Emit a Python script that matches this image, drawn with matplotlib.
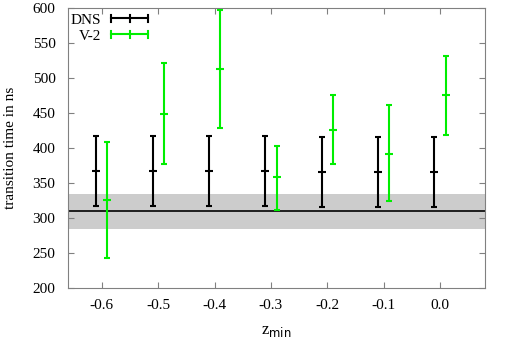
import matplotlib
matplotlib.use('Agg')
import matplotlib.pyplot as plt
from matplotlib.legend_handler import HandlerBase
from matplotlib.lines import Line2D
import numpy as np

# z_min positions
z = [-0.6, -0.5, -0.4, -0.3, -0.2, -0.1, 0.0]

# DNS reference values (center, lower, upper)
dns_mid = [367, 367, 367, 367, 366, 366, 366]
dns_lo = [317, 317, 317, 317, 316, 316, 316]
dns_hi = [417, 417, 417, 417, 416, 415, 415]

# V-2 model
v2_mid = [326, 449, 513, 358, 426, 392, 475]
v2_lo = [243, 377, 429, 311, 377, 325, 418]
v2_hi = [408, 522, 597, 403, 476, 461, 532]

# mean transition time and spread band
t_mean = 310
t_band = [285, 334]


class GnuplotKey(HandlerBase):
    # horizontal line with end caps and a centre tick, like the gnuplot key
    def create_artists(self, legend, orig_handle, xdescent, ydescent,
                       width, height, fontsize, trans):
        c = orig_handle.get_color()
        y = height / 2.0 - ydescent
        h = 2.5
        arts = [Line2D([-xdescent, width - xdescent], [y, y], color=c, lw=1.5)]
        for xx in [-xdescent, width / 2.0 - xdescent, width - xdescent]:
            arts.append(Line2D([xx, xx], [y - h, y + h], color=c, lw=1.5))
        for a in arts:
            a.set_transform(trans)
        return arts


plt.rcParams['font.family'] = ['Liberation Serif', 'DejaVu Serif']
plt.rcParams['font.size'] = 11

fig = plt.figure(figsize=(5.09, 3.47), dpi=100)
ax = fig.add_axes([0.1336, 0.170, 0.953 - 0.1336, 0.977 - 0.170])

ax.axhspan(t_band[0], t_band[1], color='#cccccc', lw=0, zorder=0)
ax.axhline(t_mean, color='black', lw=1.2, zorder=1)

x = np.array(z)
dm = np.array(dns_mid)
vm = np.array(v2_mid)
dns_err = [dm - np.array(dns_lo), np.array(dns_hi) - dm]
v2_err = [vm - np.array(v2_lo), np.array(v2_hi) - vm]

ax.errorbar(x - 0.01, dm, yerr=dns_err, fmt='_', color='black', ms=6, mew=1.5,
            elinewidth=1.5, capsize=2.5, capthick=1.5, zorder=3)
ax.errorbar(x + 0.01, vm, yerr=v2_err, fmt='_', color='#00ee00', ms=6, mew=1.5,
            elinewidth=1.5, capsize=2.5, capthick=1.5, zorder=3)

ax.set_xlim(-0.66, 0.08)
ax.set_ylim(200, 600)
ax.set_xticks(z)
ax.set_xticklabels(['%.1f' % v for v in z])
ax.set_yticks(np.arange(200, 601, 50))

for s in ax.spines.values():
    s.set_color('#808080')
ax.tick_params(direction='in', length=4, color='#808080', top=True, right=True,
               labelsize=11)
ax.tick_params(axis='y', pad=9)
ax.tick_params(axis='x', pad=8)

ax.set_ylabel('transition time in ns', fontsize=11, labelpad=11)
ax.set_xlabel(r'z$_{\rm min}$', fontsize=12, labelpad=8)

h_dns = Line2D([], [], color='black')
h_v2 = Line2D([], [], color='#00ee00')
ax.legend([h_dns, h_v2], ['DNS', 'V-2'], handler_map={Line2D: GnuplotKey()},
          loc='upper left', bbox_to_anchor=(0.0, 0.99),
          frameon=False, markerfirst=False, handlelength=2.4,
          borderaxespad=0.0, borderpad=0.15, handletextpad=0.7, labelspacing=0.15,
          fontsize=11)

fig.savefig('out.png', dpi=100)
